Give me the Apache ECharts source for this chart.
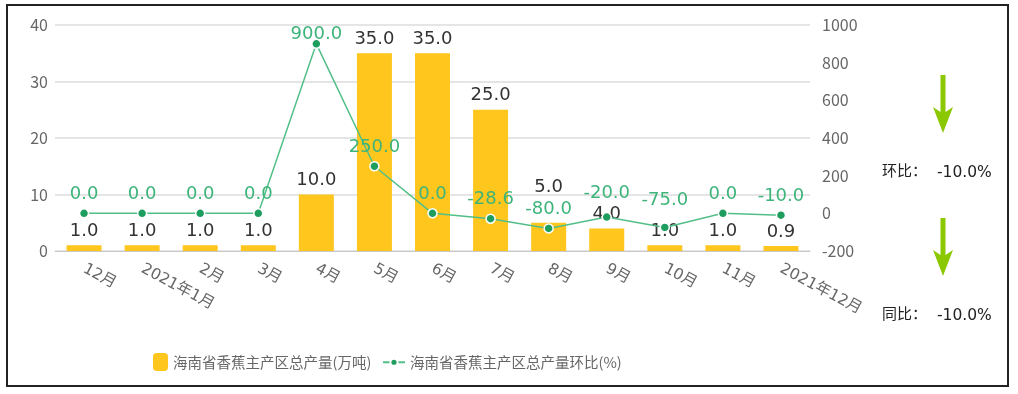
<!DOCTYPE html>
<html><head><meta charset="utf-8">
<script src="https://cdn.jsdelivr.net/npm/echarts@6/dist/echarts.min.js"></script>
<style>html,body{margin:0;padding:0;background:#fff}#c{width:1018px;height:394px}</style>
</head><body><div id="c"></div>
<script>
const categories = ['12月','2021年1月','2月','3月','4月','5月','6月','7月','8月','9月','10月','11月','2021年12月'];
const output = [1.0,1.0,1.0,1.0,10.0,35.0,35.0,25.0,5.0,4.0,1.0,1.0,0.9];
const momRate = [0.0,0.0,0.0,0.0,900.0,250.0,0.0,-28.6,-80.0,-20.0,-75.0,0.0,-10.0];
const seriesNames = ['海南省香蕉主产区总产量(万吨)','海南省香蕉主产区总产量环比(%)'];
const sideLabels = ['环比：','同比：'];
const sideValues = ['-10.0%','-10.0%'];

const font = '"Noto Sans CJK SC", "Noto Sans", sans-serif';
const numFont = '"DejaVu Sans", "Noto Sans CJK SC", sans-serif';
// label nudges to mimic overlap avoidance in the original (index -> vertical offset px)
const barLabelNudge = {8:-21};
const lineLabelNudge = {4:10, 9:-5, 10:-8};

const barData = output.map((v,i)=> barLabelNudge[i]!==undefined ? {value:v,label:{offset:[0,barLabelNudge[i]]}} : v);
const lineData = momRate.map((v,i)=> lineLabelNudge[i]!==undefined ? {value:v,label:{offset:[0,lineLabelNudge[i]]}} : v);

const chart = echarts.init(document.getElementById('c'));
function arrow(x, y0){
  return {type:'polygon', shape:{points:[[x-2.5,y0],[x+2.5,y0],[x+2.5,y0+37],[x+10,y0+32],[x,y0+58],[x-10,y0+32],[x-2.5,y0+37]]}, style:{fill:'#8CC800'}};
}
function sideText(i, cy){
  return [
    {type:'text',x:882,y:cy-2,style:{text:sideLabels[i],fill:'#222',font:'15px '+font,verticalAlign:'middle',textVerticalAlign:'middle'}},
    {type:'text',x:937,y:cy+1,style:{text:sideValues[i],fill:'#222',font:'15.5px "DejaVu Sans", sans-serif',verticalAlign:'middle',textVerticalAlign:'middle'}}
  ];
}
chart.setOption({
  animation:false,
  textStyle:{fontFamily:font},
  grid:{left:55,right:208,top:25,bottom:143},
  legend:[
    {left:148,top:348,itemWidth:15,itemHeight:18,
      textStyle:{color:'#666',fontSize:14.5,fontFamily:font},
      data:[seriesNames[0]]},
    {left:377,top:350,itemWidth:22,itemHeight:9,
      textStyle:{color:'#666',fontSize:14.5,fontFamily:font},
      data:[seriesNames[1]]}
  ],
  xAxis:{type:'category',data:categories,
    axisLine:{lineStyle:{color:'#c8c8c8'}},
    axisTick:{lineStyle:{color:'#c8c8c8'},length:5},
    axisLabel:{rotate:-28,color:'#666',fontSize:15.5,interval:0,margin:17,fontFamily:numFont}},
  yAxis:[
    {type:'value',min:0,max:40,interval:10,
      axisLabel:{color:'#666',fontSize:16,margin:7},
      splitLine:{lineStyle:{color:'#ddd',width:1.5}},axisLine:{show:false},axisTick:{show:false}},
    {type:'value',min:-200,max:1000,interval:200,
      axisLabel:{color:'#666',fontSize:16,margin:12,formatter:v=>String(v)},
      splitLine:{show:false},axisLine:{show:false},axisTick:{show:false}}
  ],
  series:[
    {name:seriesNames[0],type:'bar',data:barData,barWidth:35,yAxisIndex:0,
      itemStyle:{color:'#FFC61E'},
      label:{show:true,position:'top',color:'#333',fontSize:18,fontFamily:numFont,distance:5,formatter:p=>p.value.toFixed(1)}},
    {name:seriesNames[1],type:'line',data:lineData,yAxisIndex:1,
      symbol:'circle',symbolSize:9,
      lineStyle:{color:'#52BF88',width:1.5},
      itemStyle:{color:'#1E9E5E',borderColor:'#fff',borderWidth:1.5},
      label:{show:true,position:'top',color:'#3DB47A',fontSize:18,fontFamily:numFont,distance:5,formatter:p=>p.value.toFixed(1)}}
  ],
  graphic:[
    {type:'rect',shape:{x:7,y:5,width:1001,height:381},style:{fill:'none',stroke:'#222',lineWidth:2}},
    arrow(943,75),
    arrow(943,218)
  ].concat(sideText(0,172), sideText(1,315))
});
</script></body></html>
